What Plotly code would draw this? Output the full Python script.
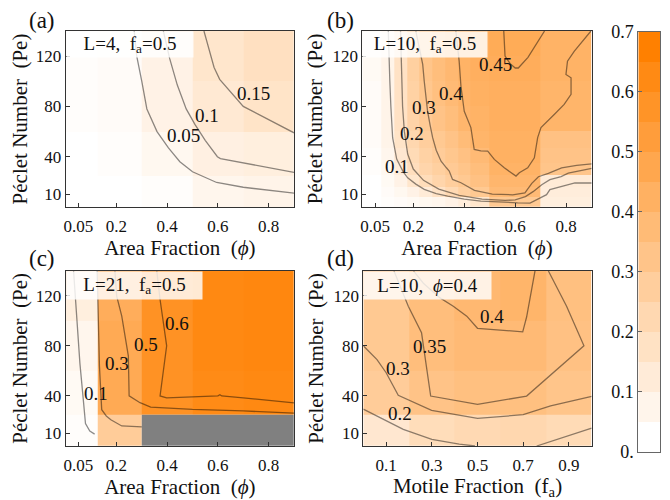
import plotly.graph_objects as go

FONT = "Liberation Serif"
TXT = "#111111"
FRAME = "#333333"
LINE_RGBA = "rgba(0,0,0,0.45)"
ORANGE_SCALE = [[0.0, "#ffffff"], [1.0, "#ff8000"]]

# ---------------- data ----------------
pe_ticks = [10, 40, 80, 120]
pe_ticktext = ["10", "40", "80", "120"]
phi_ticks = [0.05, 0.2, 0.4, 0.6, 0.8]
phi_ticktext = ["0.05", "0.2", "0.4", "0.6", "0.8"]
fa_ticks = [0.1, 0.3, 0.5, 0.7, 0.9]
fa_ticktext = ["0.1", "0.3", "0.5", "0.7", "0.9"]

# cell edges (nearest-neighbour cells around the sampled points)
phi_edges = [0, 0.125, 0.3, 0.5, 0.7, 0.9]   # phi = 0.05, 0.2, 0.4, 0.6, 0.8
fa_edges = [0, 0.2, 0.4, 0.6, 0.8, 1.0]      # fa = 0.1 ... 0.9
pe_edges = [0, 25, 60, 100, 140]             # Pe = 10, 40, 80, 120

# (a) L=4, fa=0.5   rows Pe = 10, 40, 80, 120
z_a = [
    [0.00, 0.00, 0.01, 0.05, 0.06],
    [0.00, 0.01, 0.04, 0.08, 0.09],
    [0.01, 0.02, 0.07, 0.12, 0.15],
    [0.01, 0.02, 0.07, 0.14, 0.17],
]

# (b) L=10, fa=0.5   finer sampling
phi_edges_b = [0, 0.075, 0.125, 0.175, 0.225, 0.275, 0.325, 0.375, 0.425, 0.5, 0.7, 0.9]
pe_edges_b = [0, 8, 16, 25, 35, 47, 60, 80, 100, 120, 140]
z_b = [
    [0.00, 0.01, 0.02, 0.03, 0.04, 0.05, 0.07, 0.10, 0.14, 0.30, 0.09],
    [0.00, 0.02, 0.04, 0.07, 0.11, 0.16, 0.21, 0.26, 0.30, 0.38, 0.10],
    [0.00, 0.03, 0.07, 0.14, 0.19, 0.23, 0.27, 0.30, 0.34, 0.40, 0.11],
    [0.01, 0.04, 0.10, 0.18, 0.23, 0.26, 0.29, 0.32, 0.36, 0.42, 0.32],
    [0.01, 0.05, 0.13, 0.20, 0.25, 0.28, 0.31, 0.34, 0.38, 0.43, 0.33],
    [0.02, 0.06, 0.15, 0.22, 0.27, 0.30, 0.33, 0.37, 0.41, 0.43, 0.34],
    [0.02, 0.06, 0.16, 0.24, 0.29, 0.33, 0.36, 0.40, 0.42, 0.44, 0.41],
    [0.02, 0.06, 0.16, 0.25, 0.31, 0.35, 0.38, 0.41, 0.43, 0.44, 0.41],
    [0.03, 0.06, 0.16, 0.26, 0.32, 0.36, 0.39, 0.42, 0.44, 0.45, 0.42],
    [0.03, 0.06, 0.16, 0.26, 0.32, 0.36, 0.40, 0.42, 0.44, 0.46, 0.42],
]

# (c) L=21, fa=0.5   (None = no data, shown grey)
z_c = [
    [0.01, 0.28, None, None, None],
    [0.03, 0.47, 0.60, 0.64, 0.65],
    [0.05, 0.47, 0.60, 0.65, 0.66],
    [0.09, 0.45, 0.60, 0.65, 0.66],
]

# (d) L=10, phi=0.4   columns fa = 0.1 ... 0.9
z_d = [
    [0.13, 0.19, 0.21, 0.22, 0.20],
    [0.28, 0.33, 0.35, 0.35, 0.32],
    [0.30, 0.36, 0.38, 0.38, 0.34],
    [0.30, 0.36, 0.39, 0.41, 0.35],
]

# contour lines: level -> (x values, Pe values)
contours_a = {
    "0.05": ([0.27, 0.28, 0.30, 0.32, 0.36, 0.405, 0.45, 0.50, 0.595, 0.70, 0.90],
             [140, 120, 100, 78, 60, 47, 36, 28, 19.5, 15.7, 11]),
    "0.1": ([0.385, 0.41, 0.44, 0.475, 0.51, 0.55, 0.598, 0.61, 0.90],
            [140, 118, 97, 78, 65.5, 53, 40, 38.5, 27.5]),
    "0.15": ([0.545, 0.585, 0.607, 0.70, 0.90],
             [140, 111, 101.5, 80, 59]),
}
contours_b = {
    "0.1": ([0.102, 0.104, 0.108, 0.112, 0.119, 0.135, 0.16, 0.178, 0.21, 0.243, 0.29, 0.335,
             0.40, 0.465, 0.54, 0.609, 0.658, 0.690, 0.723, 0.736, 0.770, 0.802, 0.834, 0.9],
            [140, 120, 100, 80, 55, 38, 28, 23, 18, 13.8, 10.5, 8.4,
             6, 4.5, 3.5, 3.1, 2.9, 6, 9.6, 13.6, 15.5, 17.5, 18.9, 18.9]),
    "0.2": ([0.150, 0.152, 0.155, 0.158, 0.165, 0.178, 0.20, 0.24, 0.30, 0.38, 0.47, 0.56,
             0.60, 0.64, 0.67, 0.704, 0.736, 0.78, 0.808, 0.854, 0.9],
            [140, 120, 100, 80, 60, 42, 30, 21, 14, 9, 6, 5,
             5.5, 8, 12, 17.5, 21.5, 24, 26.8, 28.5, 30.5]),
    "0.3": ([0.210, 0.225, 0.237, 0.243, 0.250, 0.256, 0.266, 0.276, 0.29, 0.309, 0.33, 0.341,
             0.354, 0.387, 0.44, 0.51, 0.59, 0.638, 0.665, 0.691, 0.730, 0.782, 0.841, 0.9],
            [140, 125, 113.4, 100, 88, 76.2, 65, 55, 45, 36.3, 31, 28.4,
             21.7, 19.1, 13, 10, 9.5, 11, 18.6, 23.9, 26.6, 31, 33, 34.2]),
    "0.4": ([0.367, 0.380, 0.387, 0.400, 0.426, 0.439, 0.465, 0.492, 0.518, 0.557, 0.603, 0.616,
             0.649, 0.675, 0.688, 0.701, 0.753, 0.792, 0.819, 0.819, 0.799, 0.805, 0.832, 0.897],
            [140, 116, 96, 76, 63, 45.6, 44.5, 44.3, 37.7, 31, 24.4, 27,
             31, 39, 55, 63, 73.5, 81.5, 89.5, 102.7, 105.4, 116, 124, 140]),
    "0.45": ([0.555, 0.560, 0.580, 0.600, 0.612, 0.650, 0.715],
             [140, 120, 114, 110.5, 110.5, 119, 140]),
}
contours_c = {
    "0.1": ([0.031, 0.037, 0.045, 0.056, 0.068, 0.078, 0.095, 0.114],
            [140, 120, 95, 66, 40, 18, 12, 9.5]),
    "0.3": ([0.124, 0.129, 0.133, 0.142, 0.16, 0.178, 0.221, 0.30],
            [140, 104, 64, 29, 24, 21, 16, 15.2]),
    "0.5": ([0.194, 0.201, 0.221, 0.247, 0.250, 0.293, 0.335, 0.50, 0.70, 0.9],
            [140, 119.6, 103.7, 71.8, 40, 34.6, 31, 29.2, 28, 26.3]),
    "0.6": ([0.359, 0.372, 0.398, 0.385, 0.372, 0.398, 0.50, 0.60, 0.608, 0.615, 0.70, 0.9],
            [140, 117, 80, 60, 40, 38.5, 39.5, 40, 41, 40, 38.5, 34.5]),
}
contours_d = {
    "0.2": ([0.0, 0.088, 0.175, 0.30, 0.42, 0.489, None, 0.759, 1.0],
            [29.5, 21.3, 13.3, 5.3, 1.5, 0, None, 0, 14.3]),
    "0.3": ([0.0, 0.06, 0.10, 0.153, 0.299, 0.5, 0.7, 0.82, 1.0],
            [80, 69, 58.5, 40.5, 28.5, 22, 25, 32, 39.7]),
    "0.35": ([0.134, 0.197, 0.255, 0.277, 0.295, 0.5, 0.715, 0.966, 0.89, 0.81],
             [140, 111.6, 90.4, 63.8, 39.9, 33.2, 39.9, 80, 111.6, 140]),
    "0.4": ([0.219, 0.263, 0.336, 0.394, 0.453, 0.5, 0.698, 0.715, 0.752],
            [140, 130, 118.3, 111.6, 103.7, 94, 91.2, 103, 140]),
}

# contour label texts and where they sit (data coordinates)
labels_a = [("0.05", 0.463, 57), ("0.1", 0.556, 73), ("0.15", 0.741, 90.5)]
labels_b = [("0.1", 0.135, 32), ("0.2", 0.195, 58.7), ("0.3", 0.241, 79),
            ("0.4", 0.348, 90), ("0.45", 0.522, 113.7)]
labels_c = [("0.1", 0.118, 42), ("0.3", 0.201, 66), ("0.5", 0.316, 80.7), ("0.6", 0.437, 97.5)]
labels_d = [("0.2", 0.161, 26.3), ("0.3", 0.153, 61.5), ("0.35", 0.292, 79.7), ("0.4", 0.562, 103.7)]

# shared colour bar (0 ... 0.7 in 0.05 bands)
cb_edges = [0.0, 0.05, 0.10, 0.15, 0.20, 0.25, 0.30, 0.35, 0.40, 0.45, 0.50, 0.55, 0.60, 0.65, 0.70]
cb_levels = [0.0, 0.054, 0.108, 0.162, 0.215, 0.269, 0.323, 0.377, 0.431, 0.485, 0.538, 0.592, 0.646, 0.70]
cb_ticks = [0.0, 0.1, 0.2, 0.3, 0.4, 0.5, 0.6, 0.7]
cb_ticktext = ["0.", "0.1", "0.2", "0.3", "0.4", "0.5", "0.6", "0.7"]

# ---------------- layout geometry ----------------
PAGE_OFF = 8            # default page margin of the html body
W, H = 662, 492         # figure size so that the page is 670 x 500


def fx(px):
    return (px - PAGE_OFF) / W


def fy(py):
    return 1 - (py - PAGE_OFF) / H


TICK_SIZE = 17
TITLE_SIZE = 21
LABEL_SIZE = 19

panels = [
    dict(key="a", xa="x", ya="y", xdom=[fx(65.7), fx(294)], ydom=[fy(207), fy(31)],
         xr=[0, 0.9], xt=phi_ticks, xtt=phi_ticktext, xtitle="Area Fraction\u00a0 (<i>ϕ</i>)",
         box="L=4,\u00a0 f<sub>a</sub>=0.5", boxw=126, boxh=25,
         z=z_a, xe=phi_edges, ye=pe_edges, cont=contours_a, labels=labels_a,
         letter="(a)", lx=42, ly=20),
    dict(key="b", xa="x2", ya="y2", xdom=[fx(362.3), fx(591.7)], ydom=[fy(206.7), fy(31)],
         xr=[0, 0.9], xt=phi_ticks, xtt=phi_ticktext, xtitle="Area Fraction\u00a0 (<i>ϕ</i>)",
         box="L=10,\u00a0 f<sub>a</sub>=0.5", boxw=124, boxh=25,
         z=z_b, xe=phi_edges_b, ye=pe_edges_b, cont=contours_b, labels=labels_b,
         letter="(b)", lx=340, ly=20),
    dict(key="c", xa="x3", ya="y3", xdom=[fx(65.7), fx(294)], ydom=[fy(446), fy(270.7)],
         xr=[0, 0.9], xt=phi_ticks, xtt=phi_ticktext, xtitle="Area Fraction\u00a0 (<i>ϕ</i>)",
         box="L=21,\u00a0 f<sub>a</sub>=0.5", boxw=135, boxh=27,
         z=z_c, xe=phi_edges, ye=pe_edges, cont=contours_c, labels=labels_c,
         letter="(c)", lx=42, ly=258),
    dict(key="d", xa="x4", ya="y4", xdom=[fx(363.3), fx(591.7)], ydom=[fy(446), fy(270.7)],
         xr=[0, 1.0], xt=fa_ticks, xtt=fa_ticktext, xtitle="Motile Fraction\u00a0 (f<sub>a</sub>)",
         box="L=10,\u00a0 <i>ϕ</i>=0.4", boxw=127, boxh=27,
         z=z_d, xe=fa_edges, ye=pe_edges, cont=contours_d, labels=labels_d,
         letter="(d)", lx=340, ly=258),
]

fig = go.Figure()
annotations = []
layout_axes = {}

for p in panels:
    # density cells
    fig.add_trace(go.Heatmap(
        z=p["z"], x=p["xe"], y=p["ye"], xaxis=p["xa"], yaxis=p["ya"],
        colorscale=ORANGE_SCALE, zmin=0, zmax=0.7, showscale=False,
        hoverongaps=False,
    ))
    # missing data cells (grey)
    mask = [[1 if v is None else None for v in row] for row in p["z"]]
    if any(v is not None for row in mask for v in row):
        fig.add_trace(go.Heatmap(
            z=mask, x=p["xe"], y=p["ye"], xaxis=p["xa"], yaxis=p["ya"],
            colorscale=[[0, "#808080"], [1, "#808080"]], showscale=False,
        ))
    # contour lines
    for lvl, (xs, ys) in p["cont"].items():
        fig.add_trace(go.Scatter(
            x=xs, y=ys, xaxis=p["xa"], yaxis=p["ya"], mode="lines",
            line=dict(color=LINE_RGBA, width=1.3), connectgaps=False,
            showlegend=False, hoverinfo="skip",
        ))
    # contour labels
    for txt, lx, ly in p["labels"]:
        annotations.append(dict(
            x=lx, y=ly, xref=p["xa"], yref=p["ya"], text=txt, showarrow=False,
            font=dict(family=FONT, size=LABEL_SIZE, color=TXT), xanchor="center", yanchor="middle",
        ))
    # parameter box
    annotations.append(dict(
        x=0, y=1, xref=p["xa"] + " domain", yref=p["ya"] + " domain",
        xanchor="left", yanchor="top",
        text=p["box"], showarrow=False, align="center",
        width=p["boxw"] - 6, height=p["boxh"] - 6, borderpad=3,
        bgcolor="rgba(255,255,255,0.82)",
        font=dict(family=FONT, size=LABEL_SIZE, color=TXT),
    ))
    # panel letter
    annotations.append(dict(
        x=fx(p["lx"]), y=fy(p["ly"]), xref="paper", yref="paper", text=p["letter"],
        showarrow=False, xanchor="center", yanchor="middle",
        font=dict(family=FONT, size=23, color=TXT),
    ))

    xn = "xaxis" + p["xa"][1:]
    yn = "yaxis" + p["ya"][1:]
    common = dict(
        ticks="inside", ticklen=4, tickcolor=FRAME, tickwidth=1,
        showline=True, linecolor=FRAME, linewidth=1, mirror=True,
        showgrid=False, zeroline=False, automargin=False,
        tickfont=dict(family=FONT, size=TICK_SIZE, color=TXT),
    )
    layout_axes[xn] = dict(
        domain=p["xdom"], anchor=p["ya"], range=p["xr"],
        tickmode="array", tickvals=p["xt"], ticktext=p["xtt"],
        ticklabelstandoff=4,
        title=dict(text=p["xtitle"], font=dict(family=FONT, size=TITLE_SIZE, color=TXT), standoff=3),
        **common,
    )
    layout_axes[yn] = dict(
        domain=p["ydom"], anchor=p["xa"], range=[0, 140],
        tickmode="array", tickvals=pe_ticks, ticktext=pe_ticktext,
        title=dict(text="Péclet Number\u00a0 (Pe)", font=dict(family=FONT, size=TITLE_SIZE, color=TXT),
                   standoff=4),
        **common,
    )

# colour bar as its own small panel
fig.add_trace(go.Heatmap(
    z=[[v] for v in cb_levels], x=[0, 1], y=cb_edges, xaxis="x5", yaxis="y5",
    colorscale=ORANGE_SCALE, zmin=0, zmax=0.7, showscale=False, hoverinfo="skip",
))
layout_axes["xaxis5"] = dict(
    domain=[fx(638.3), fx(660)], anchor="y5", range=[0, 1],
    showticklabels=False, ticks="", showline=True, linecolor="#666666", linewidth=1,
    mirror=True, showgrid=False, zeroline=False, automargin=False,
)
layout_axes["yaxis5"] = dict(
    domain=[fy(451.7), fy(31.7)], anchor="x5", range=[0, 0.7],
    tickmode="array", tickvals=cb_ticks, ticktext=cb_ticktext,
    ticks="inside", ticklen=4, tickcolor="#666666",
    showline=True, linecolor="#666666", linewidth=1, mirror=True,
    showgrid=False, zeroline=False, automargin=False,
    tickfont=dict(family=FONT, size=18, color=TXT),
)

fig.update_layout(
    width=W, height=H,
    margin=dict(l=0, r=0, t=0, b=0, pad=0),
    paper_bgcolor="white", plot_bgcolor="white",
    showlegend=False,
    annotations=annotations,
    **layout_axes,
)

fig.write_html("out.html")
